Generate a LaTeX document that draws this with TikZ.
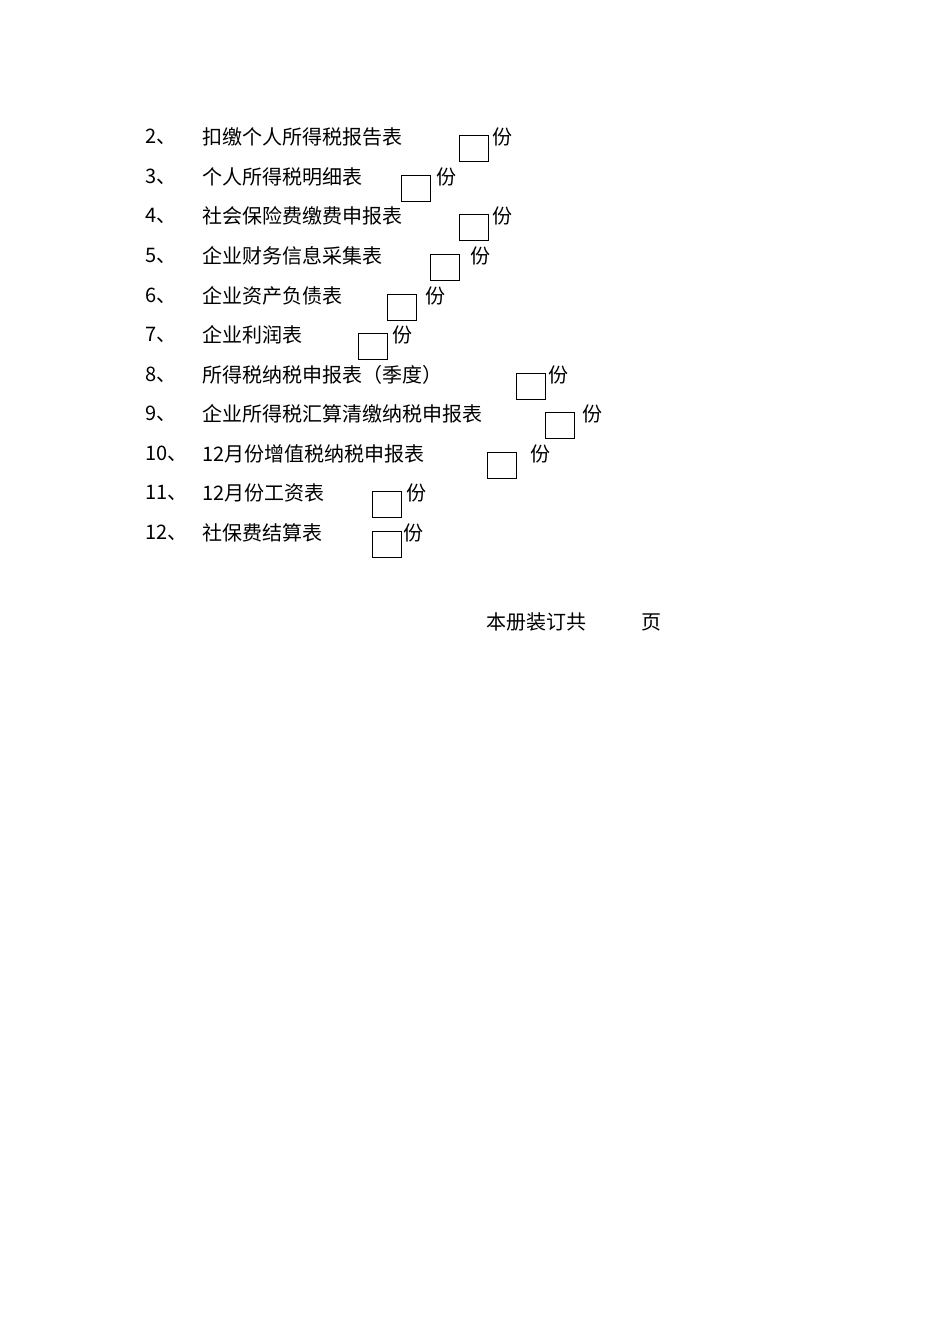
\documentclass[tikz,border=0pt]{standalone}
\usepackage{fontspec}
\newfontfamily\cjk{Noto Sans CJK SC}
\begin{document}
\begin{tikzpicture}[x=1pt,y=-1pt,
 txt/.style={anchor=west,inner sep=0pt,font=\cjk\fontsize{20}{20}\selectfont},
 bx/.style={draw,line width=0.9pt,minimum width=29pt,minimum height=26pt,inner sep=0pt}]
\useasboundingbox (0,0) rectangle (950,1344);
\foreach \n/\t/\y/\bxl/\fen in {
 2/扣缴个人所得税报告表/137/459/492,
 3/个人所得税明细表/177/401/436,
 4/社会保险费缴费申报表/216/459/492,
 5/企业财务信息采集表/256/430/470,
 6/企业资产负债表/296/387/425,
 7/企业利润表/335/358/392,
 8/所得税纳税申报表（季度）/375/516/548,
 9/企业所得税汇算清缴纳税申报表/414/545/582,
 10/12月份增值税纳税申报表/454/487/530,
 11/12月份工资表/493/372/406,
 12/社保费结算表/533/372/403}{
 \node[txt] (n\n) at (145,\y) {\n、};
 \node[txt] (t\n) at (202,\y) {\t};
 \node[bx,anchor=north west] (b\n) at (\bxl,\y-2) {};
 \node[txt] (f\n) at (\fen,\y) {份};
}
\node[txt] (foot) at (486,622) {本册装订共};
\node[txt] (ye) at (641,622) {页};
\end{tikzpicture}
\end{document}
